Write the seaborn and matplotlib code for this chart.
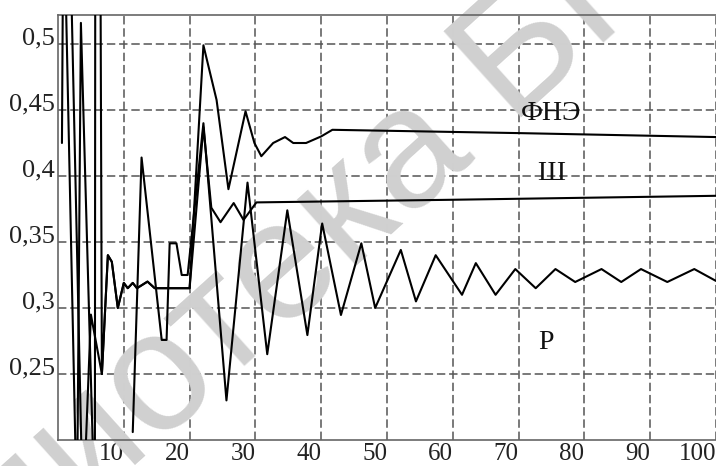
import matplotlib
matplotlib.use("Agg")
import matplotlib.pyplot as plt
import numpy as np
import pandas as pd
import seaborn as sns

# series values
fne_x = [0.6, 0.83, 2.88, 3.48, 5.6, 5.8, 6.67, 7.58, 8.18, 9.09, 10.0, 10.6, 11.36, 12.0,
         13.6, 14.7, 20.0, 22.1, 24.1, 25.9, 28.5, 29.85, 30.9, 32.7, 34.5, 35.75, 37.7,
         40.0, 41.7, 70.0, 100.0]
fne_y = [0.425, 0.62, 0.14, 0.516, 0.14, 1.5, 0.25, 0.34, 0.335, 0.30, 0.319, 0.315, 0.319, 0.315,
         0.32, 0.315, 0.315, 0.499, 0.4576, 0.390, 0.449, 0.425, 0.415, 0.425, 0.4295, 0.425, 0.425,
         0.430, 0.435, 0.4325, 0.4295]

sh_x = [1.67, 3.79, 5.0, 6.67, 7.58, 8.18, 9.09, 10.0, 10.6, 11.36, 12.0, 13.6, 14.7, 20.0,
        22.1, 23.3, 24.7, 26.7, 28.2, 30.15, 60.0, 100.0]
sh_y = [0.62, 0.14, 0.295, 0.25, 0.34, 0.335, 0.30, 0.319, 0.315, 0.319, 0.315, 0.32, 0.315, 0.315,
        0.437, 0.376, 0.365, 0.3795, 0.3667, 0.380, 0.382, 0.385]

r_x = [11.36, 12.7, 15.76, 16.5, 16.97, 18.0, 18.8, 19.7, 22.1, 25.6, 28.8, 31.8, 34.85, 37.9,
       39.85, 40.15, 43.0, 46.1, 48.2, 52.1, 54.4, 57.4, 61.4, 63.5, 66.5, 69.5, 72.6, 75.6,
       78.6, 82.6, 85.6, 88.6, 92.6, 96.7, 100.0]
r_y = [0.206, 0.414, 0.2758, 0.2758, 0.349, 0.349, 0.325, 0.325, 0.44, 0.23, 0.395, 0.265, 0.374, 0.2795,
       0.353, 0.364, 0.2947, 0.349, 0.30, 0.344, 0.305, 0.340, 0.31, 0.334, 0.31, 0.3295, 0.315, 0.3295,
       0.3197, 0.3295, 0.3197, 0.3295, 0.3197, 0.3295, 0.3205]

x_ticks = [10, 20, 30, 40, 50, 60, 70, 80, 90, 100]
y_ticks = [0.25, 0.3, 0.35, 0.4, 0.45, 0.5]
y_tick_labels = ["0,25", "0,3", "0,35", "0,4", "0,45", "0,5"]
series_names = ["ФНЭ", "Ш", "Р"]
watermark = "Библиотека БГУИР"

sns.set_theme(style="white")
plt.rcParams["font.family"] = ["Liberation Serif", "DejaVu Serif"]

fig = plt.figure(figsize=(7.16, 4.66), dpi=100)
fig.patch.set_facecolor("white")
ax = fig.add_axes([58 / 716, 26 / 466, 658 / 716, 425 / 466])
ax.set_facecolor("white")

# watermark behind the curves
ax.text(0.454, 0.494, watermark, transform=fig.transFigure, rotation=42,
        ha="center", va="center", rotation_mode="anchor", fontsize=122,
        family=["Liberation Sans", "DejaVu Sans"],
        color="#d0d0d0", zorder=1.5, clip_on=False)

for xs, ys in [(fne_x, fne_y), (sh_x, sh_y), (r_x, r_y)]:
    df = pd.DataFrame({"x": xs, "y": ys})
    sns.lineplot(data=df, x="x", y="y", sort=False, estimator=None,
                 color="black", linewidth=1.5, ax=ax, zorder=3)

ax.set_xlim(0, 100)
ax.set_ylim(0.2, 0.2 + 425 / 1320)
ax.set_xlabel("")
ax.set_ylabel("")

ax.set_xticks(x_ticks)
ax.set_xticklabels([str(v) for v in x_ticks], ha="right")
ax.set_yticks(y_ticks)
ax.set_yticklabels(y_tick_labels, va="baseline")
ax.tick_params(axis="x", length=0, pad=2, labelsize=18, colors="#222222")
ax.tick_params(axis="y", length=0, pad=2, labelsize=19, colors="#222222")

ax.grid(True, linestyle=(0, (5.5, 2.5)), color="#555555", linewidth=1.1)
ax.set_axisbelow(True)

for side in ["top", "left", "bottom"]:
    ax.spines[side].set_color("#666666")
    ax.spines[side].set_linewidth(1.2)
ax.spines["right"].set_visible(False)

label_pos = [(75.0, 0.4477), (75.0, 0.402), (74.1, 0.2735)]
for name, (lx, ly) in zip(series_names, label_pos):
    ax.text(lx, ly, name, ha="center", va="center", fontsize=20, color="#111111", zorder=4)

fig.savefig("out.png", dpi=100)
